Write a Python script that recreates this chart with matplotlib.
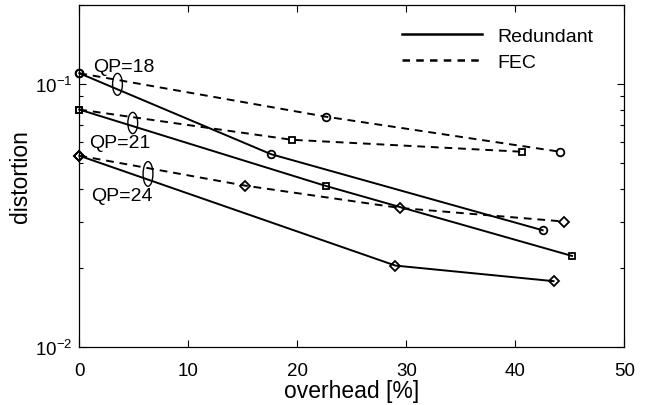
import numpy as np
import matplotlib
matplotlib.use("Agg")
import matplotlib.pyplot as plt
from matplotlib.patches import Ellipse
from matplotlib.ticker import LogLocator, NullFormatter, FixedLocator

plt.rcParams['font.family'] = ['Liberation Sans', 'DejaVu Sans']
plt.rcParams['mathtext.fontset'] = 'custom'
plt.rcParams['mathtext.rm'] = 'Liberation Sans'
plt.rcParams['mathtext.default'] = 'regular'

# data: overhead [%] and distortion
red18_x = [0, 17.6, 42.5]
red18_y = [0.110, 0.0541, 0.0278]
fec18_x = [0, 22.6, 44.1]
fec18_y = [0.110, 0.0752, 0.0553]

red21_x = [0, 22.6, 45.2]
red21_y = [0.080, 0.0410, 0.0222]
fec21_x = [0, 19.5, 40.6]
fec21_y = [0.080, 0.0614, 0.0553]

red24_x = [0, 29.0, 43.5]
red24_y = [0.0534, 0.0204, 0.0178]
fec24_x = [0, 15.2, 29.4, 44.5]
fec24_y = [0.0534, 0.0411, 0.0338, 0.0300]

qp_labels = ['QP=18', 'QP=21', 'QP=24']

fig = plt.figure(figsize=(6.46, 4.06), dpi=100)
ax = fig.add_axes([0.1228, 0.1429, 0.8437, 0.8424])

lw = 1.4
dash = (0, (4.0, 3.0))
mk = dict(markerfacecolor='none', markeredgecolor='black', markeredgewidth=1.3, clip_on=False)

ax.plot(red18_x, red18_y, '-', color='black', lw=lw, marker='o', markersize=5.5, **mk)
ax.plot(fec18_x, fec18_y, linestyle=dash, color='black', lw=lw, marker='o', markersize=5.5, **mk)
ax.plot(red21_x, red21_y, '-', color='black', lw=lw, marker='s', markersize=5, **mk)
ax.plot(fec21_x, fec21_y, linestyle=dash, color='black', lw=lw, marker='s', markersize=5, **mk)
ax.plot(red24_x, red24_y, '-', color='black', lw=lw, marker='D', markersize=5, **mk)
ax.plot(fec24_x, fec24_y, linestyle=dash, color='black', lw=lw, marker='D', markersize=5, **mk)

ax.set_yscale('log')
ax.set_xlim(0, 50)
ax.set_ylim(0.01, 0.2)
ax.set_xticks([0, 10, 20, 30, 40, 50])
ax.yaxis.set_major_locator(FixedLocator([0.01, 0.1]))
ax.set_yticklabels(['$10^{-2}$', '$10^{-1}$'])
ax.yaxis.set_minor_locator(LogLocator(base=10, subs=np.arange(2, 10)))
ax.yaxis.set_minor_formatter(NullFormatter())
ax.tick_params(which='both', direction='in', top=True, right=True, labelsize=13.5, width=0.8)
ax.tick_params(which='major', length=5)
ax.tick_params(which='minor', length=3)
ax.tick_params(axis='x', pad=11)
ax.tick_params(axis='y', pad=5)
for s in ax.spines.values():
    s.set_linewidth(0.9)

ax.set_xlabel('overhead [%]', fontsize=16.5, labelpad=0)
ax.set_ylabel('distortion', fontsize=16.5, labelpad=2)

# legend with dummy handles
ax.plot([], [], '-', color='black', lw=1.8, label='Redundant')
ax.plot([], [], linestyle=(0, (3, 2.5)), color='black', lw=1.8, label='FEC')
handles, labels = ax.get_legend_handles_labels()
ax.legend(handles[-2:], labels[-2:], loc='upper right', frameon=False, fontsize=14,
          handlelength=4.1, handletextpad=0.8, labelspacing=0.4,
          bbox_to_anchor=(0.975, 0.985))

# QP annotations with small ellipses (axes fraction coordinates)
text_pos = [(0.026, 0.821), (0.018, 0.599), (0.022, 0.444)]
ell_pos = [(0.070, 0.768), (0.098, 0.655), (0.126, 0.506)]
ell_h = [0.064, 0.062, 0.072]
for lab, tp, ep, h in zip(qp_labels, text_pos, ell_pos, ell_h):
    ax.text(tp[0], tp[1], lab, transform=ax.transAxes, fontsize=14, va='center', ha='left')
    ax.add_patch(Ellipse(ep, 0.018, h, transform=ax.transAxes, fill=False,
                         edgecolor='black', lw=1.0))

fig.savefig('out.png', dpi=100)
